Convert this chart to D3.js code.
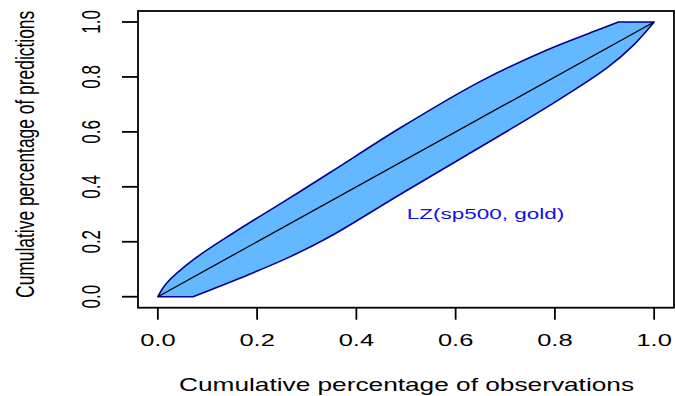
<!DOCTYPE html>
<html>
<head>
<meta charset="utf-8">
<script src="https://cdn.jsdelivr.net/npm/d3@7"></script>
<style>
  body { margin: 0; background: #fff; }
  text { font-family: "Liberation Sans", Arial, Helvetica, sans-serif; }
</style>
</head>
<body>
<div id="chart"></div>
<script>
// Lorenz curves
const upperX = [0, 0.0175, 0.071, 0.152, 0.253, 0.347, 0.488, 0.649, 0.784, 0.878, 0.928, 1.0];
const upperY = [0, 0.049, 0.134, 0.232, 0.345, 0.452, 0.614, 0.783, 0.898, 0.965, 1.0, 1.0];
const lowerX = [0, 0.071, 0.185, 0.266, 0.347, 0.488, 0.649, 0.784, 0.905, 0.958, 1.0];
const lowerY = [0, 0, 0.082, 0.145, 0.219, 0.372, 0.544, 0.690, 0.833, 0.915, 1.0];
const diagX = [0, 1];
const xTicks = [0, 0.2, 0.4, 0.6, 0.8, 1.0];
const yTicks = [0, 0.2, 0.4, 0.6, 0.8, 1.0];
const label = { x: 0.66, y: 0.3, text: 'LZ(sp500, gold)' };

const width = 675, height = 396;
const box = { left: 138, right: 674, top: 11, bottom: 307.7 };
const stretch = 1.5; // text in the picture is wider than tall

const svg = d3.select('#chart').append('svg')
  .attr('width', width)
  .attr('height', height);

// R style: 4% padding on each side of the data range
const x = d3.scaleLinear().domain([-0.04, 1.04]).range([box.left, box.right]);
const y = d3.scaleLinear().domain([-0.04, 1.04]).range([box.bottom, box.top]);

const upper = upperX.map((d, i) => [d, upperY[i]]);
const lower = lowerX.map((d, i) => [d, lowerY[i]]);

const smooth = d3.line()
  .x(d => x(d[0]))
  .y(d => y(d[1]))
  .curve(d3.curveCatmullRom.alpha(0.5));

// flat runs are drawn straight, rising runs smooth
function outline(pts) {
  const runs = [];
  let cur = [pts[0]];
  for (let i = 1; i < pts.length; i++) {
    const flat = pts[i][1] === pts[i - 1][1];
    const curFlat = cur.length > 1 && cur[1][1] === cur[0][1];
    if (cur.length === 1 || flat === curFlat) {
      cur.push(pts[i]);
    } else {
      runs.push(cur);
      cur = [pts[i - 1], pts[i]];
    }
  }
  runs.push(cur);
  return runs.map((r, k) => {
    const p = r.length > 2 ? smooth(r) : `M${x(r[0][0])},${y(r[0][1])}L${x(r[1][0])},${y(r[1][1])}`;
    return k === 0 ? p : p.replace(/^M/, 'L');
  }).join('');
}

const bandPath = outline(upper) + outline(lower.slice().reverse()).replace(/^M/, 'L') + 'Z';

svg.append('path')
  .attr('d', bandPath)
  .attr('fill', '#63B8FF')
  .attr('stroke', '#00008B')
  .attr('stroke-width', 1.6)
  .attr('stroke-linejoin', 'round');

svg.append('path')
  .attr('d', d3.line().x(d => x(d)).y(d => y(d))(diagX))
  .attr('stroke', '#000')
  .attr('stroke-width', 1.3)
  .attr('fill', 'none');

// box
svg.append('rect')
  .attr('x', box.left)
  .attr('y', box.top)
  .attr('width', box.right - box.left)
  .attr('height', box.bottom - box.top)
  .attr('fill', 'none')
  .attr('stroke', '#000')
  .attr('stroke-width', 1.8);

// x axis
const gx = svg.append('g');
gx.selectAll('line')
  .data(xTicks)
  .enter()
  .append('line')
  .attr('x1', d => x(d)).attr('x2', d => x(d))
  .attr('y1', box.bottom).attr('y2', box.bottom + 12)
  .attr('stroke', '#000')
  .attr('stroke-width', 1.8);
gx.selectAll('text')
  .data(xTicks)
  .enter()
  .append('text')
  .attr('transform', d => `translate(${x(d)},346) scale(${stretch},1)`)
  .attr('text-anchor', 'middle')
  .style('font-size', '17px')
  .text(d => d3.format('.1f')(d));

// y axis
const gy = svg.append('g');
gy.selectAll('line')
  .data(yTicks)
  .enter()
  .append('line')
  .attr('x1', box.left - 16).attr('x2', box.left)
  .attr('y1', d => y(d)).attr('y2', d => y(d))
  .attr('stroke', '#000')
  .attr('stroke-width', 1.8);
gy.selectAll('text')
  .data(yTicks)
  .enter()
  .append('text')
  .attr('transform', d => `translate(100,${y(d)}) scale(${stretch},1) rotate(-90)`)
  .attr('text-anchor', 'middle')
  .style('font-size', '17px')
  .text(d => d3.format('.1f')(d));

// axis titles
svg.append('text')
  .attr('transform', `translate(${(box.left + box.right) / 2 + 0.5},391) scale(${stretch},1)`)
  .attr('text-anchor', 'middle')
  .style('font-size', '17.5px')
  .text('Cumulative percentage of observations');

svg.append('text')
  .attr('transform', `translate(34,${(box.top + box.bottom) / 2 - 5}) scale(${stretch},1) rotate(-90)`)
  .attr('text-anchor', 'middle')
  .style('font-size', '17.4px')
  .text('Cumulative percentage of predictions');

// curve label
svg.append('text')
  .attr('transform', `translate(${x(label.x)},${y(label.y) + 5}) scale(${stretch},1)`)
  .attr('text-anchor', 'middle')
  .attr('fill', '#1010F0')
  .style('font-size', '15px')
  .text(label.text);
</script>
</body>
</html>
